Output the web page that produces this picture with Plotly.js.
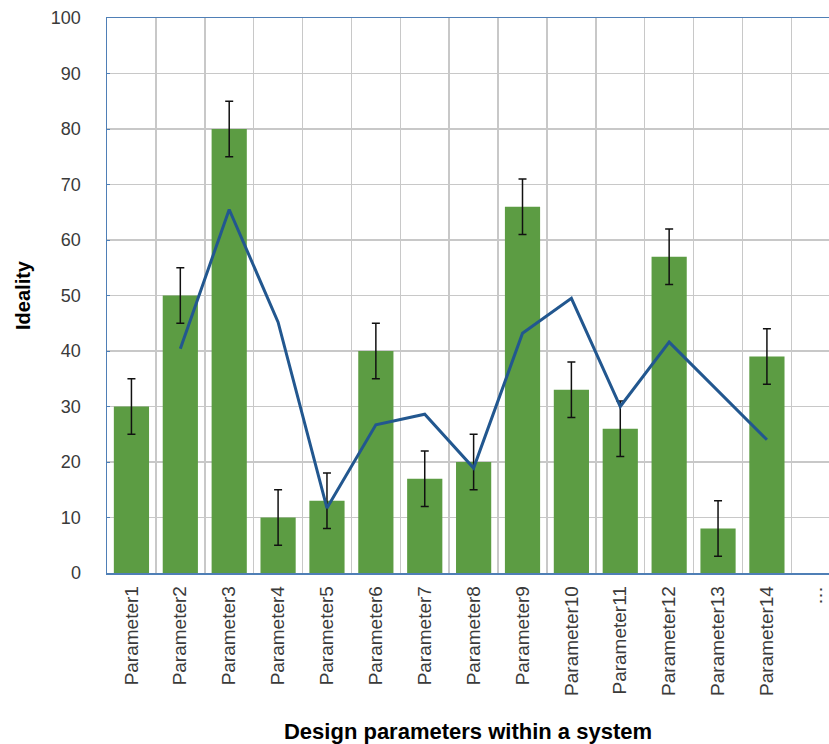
<!DOCTYPE html>
<html>
<head>
<meta charset="utf-8">
<script src="https://cdn.plot.ly/plotly-3.0.1.min.js"></script>
<style>html,body{margin:0;padding:0;background:#fff;}#chart{width:829px;height:744px;}</style>
</head>
<body>
<div id="chart"></div>
<script>
const categories = ["Parameter1","Parameter2","Parameter3","Parameter4","Parameter5","Parameter6","Parameter7","Parameter8","Parameter9","Parameter10","Parameter11","Parameter12","Parameter13","Parameter14","\u2026"];
const barValues = [30, 50, 80, 10, 13, 40, 17, 20, 66, 33, 26, 57, 8, 39, null];
const barErrors = [5, 5, 5, 5, 5, 5, 5, 5, 5, 5, 5, 5, 5, 5, null];
const lineValues = [null, 40.4, 65.5, 45.2, 11.7, 26.7, 28.6, 18.9, 43.2, 49.5, 30.0, 41.6, null, 24.0, null];
const yTicks = [0, 10, 20, 30, 40, 50, 60, 70, 80, 90, 100];

const font = "'Liberation Sans', Arial, Helvetica, sans-serif";

const traces = [
  {
    type: "bar",
    x: categories,
    y: barValues,
    width: 0.72,
    marker: {color: "#5c9c43"},
    error_y: {type: "data", array: barErrors, visible: true, color: "#111111", thickness: 1.5, width: 4},
    hoverinfo: "x+y",
    showlegend: false
  },
  {
    type: "scatter",
    mode: "lines",
    x: categories,
    y: lineValues,
    connectgaps: true,
    line: {color: "#22578f", width: 3},
    showlegend: false
  }
];

const layout = {
  width: 829,
  height: 744,
  margin: {l: 107, r: 0, t: 18, b: 171},
  paper_bgcolor: "#ffffff",
  plot_bgcolor: "#ffffff",
  font: {family: font, color: "#333333"},
  bargap: 0.28,
  xaxis: {
    type: "category",
    range: [-0.5, 14.27],
    tickson: "boundaries",
    showgrid: true,
    gridcolor: "#c8c8c8",
    gridwidth: 1.5,
    showline: true,
    linecolor: "#4f7fb6",
    linewidth: 1.5,
    mirror: true,
    ticks: "",
    tickangle: -90,
    tickfont: {size: 19, color: "#3a3a3a", family: font},
    ticklabelstandoff: 4,
    title: {text: "<b>Design parameters within a system</b>", font: {size: 22, color: "#000000", family: font}, standoff: 34},
    fixedrange: true
  },
  yaxis: {
    range: [0, 100],
    tickvals: yTicks,
    ticktext: yTicks.map(String),
    showgrid: true,
    gridcolor: "#c8c8c8",
    gridwidth: 1.5,
    zeroline: false,
    showline: true,
    linecolor: "#4f7fb6",
    linewidth: 1.5,
    ticks: "inside",
    ticklen: 3,
    tickcolor: "#4f7fb6",
    tickfont: {size: 18, color: "#3a3a3a", family: font},
    ticklabelstandoff: 21,
    title: {text: "<b>Ideality</b>", font: {size: 20, color: "#000000", family: font}, standoff: 15},
    fixedrange: true
  }
};

Plotly.newPlot("chart", traces, layout, {displayModeBar: false, staticPlot: true});
</script>
</body>
</html>
